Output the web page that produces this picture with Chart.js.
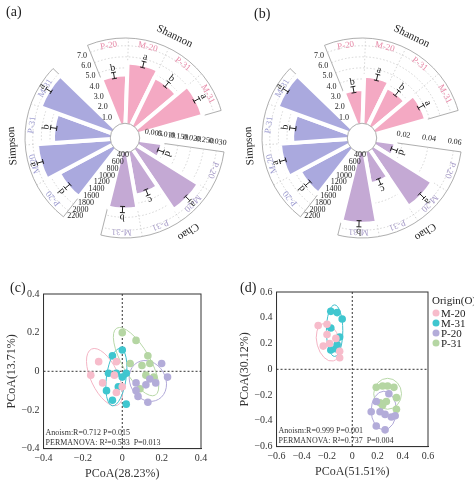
<!DOCTYPE html>
<html lang="en">
<head>
<meta charset="UTF-8">
<title>Alpha and beta diversity</title>
<script src="https://cdn.jsdelivr.net/npm/chart.js"></script>
<style>
  body { margin: 0; background: #fff; font-family: "Liberation Serif", serif; }
  .wrap { position: relative; width: 474px; height: 484px; }
  .panel { position: absolute; }
  .tag { position: absolute; font-size: 14px; color: #222; }
</style>
</head>
<body>
<div class="wrap">
  <div class="panel" style="left:0;top:0;width:237px;height:280px"><canvas id="chartA"></canvas></div>
  <div class="panel" style="left:237px;top:0;width:237px;height:280px"><canvas id="chartB"></canvas></div>
  <div class="panel" style="left:0;top:280px;width:237px;height:204px"><canvas id="chartC"></canvas></div>
  <div class="panel" style="left:237px;top:280px;width:237px;height:204px"><canvas id="chartD"></canvas></div>
  <div class="tag" style="left:6px;top:4px">(a)</div>
  <div class="tag" style="left:254px;top:6px">(b)</div>
  <div class="tag" style="left:10px;top:280px">(c)</div>
  <div class="tag" style="left:240px;top:280px">(d)</div>
</div>
<script>
// ---- radial bar panels ----
const groupCats = ['P-20', 'M-20', 'P-31', 'M-31'];
const groupTitles = ['Shannon', 'Chao', 'Simpson'];

const aShannon = [4.4, 5.5, 4.8, 6.0];
const aRight = [0.009, 0.028, 0.017, 0.022];
const aLeft = [1800, 2110, 1730, 2150];
const bShannon = [3.1, 4.3, 3.8, 4.7];
const bRight = [0.015, 0.053, 0.025, 0.055];
const bLeft = [1700, 1970, 1680, 2150];

const shannonLetters = ['b', 'a', 'b', 'a'];
const rightLetters = ['d', 'a', 'c', 'b'];
const leftLetters = ['d', 'a', 'b', 'a'];

const shannonTicks = ['1.0', '2.0', '3.0', '4.0', '5.0', '6.0', '7.0'];
const shannonTickVals = [1, 2, 3, 4, 5, 6, 7];
const rightTicksA = ['0.005', '0.010', '0.150', '0.020', '0.250', '0.030'];
const rightTickValsA = [0.005, 0.010, 0.015, 0.020, 0.025, 0.030];
const rightTicksB = ['0.02', '0.04', '0.06'];
const rightTickValsB = [0.02, 0.04, 0.06];
const leftTicks = ['400', '600', '800', '1000', '1200', '1400', '1600', '1800', '2000', '2200'];
const leftTickVals = [400, 600, 800, 1000, 1200, 1400, 1600, 1800, 2000, 2200];

const groupColors = ['#f4a9c3', '#c4a9d4', '#aaa9de'];
const labelColors = ['#e78aa8', '#a79cc8', '#9c9bd0'];

const START = -22, SLICE = 24;

function makePolar(id, shannon, right, left, rightHi, rTicks, rTickVals) {
  const ranges = [[0, 7], [0, rightHi], [400, 2200]];
  const raw = [shannon, right, left];
  const letters = [shannonLetters, rightLetters, leftLetters];
  const values = [], colors = [];
  raw.forEach((arr, g) => {
    arr.forEach(v => { values.push((v - ranges[g][0]) / (ranges[g][1] - ranges[g][0])); colors.push(groupColors[g]); });
    values.push(0); colors.push('rgba(0,0,0,0)');
  });
  const tickSets = [[shannonTicks, shannonTickVals], [rTicks, rTickVals], [leftTicks, leftTickVals]];

  const ang = i => (START - 90 + i * SLICE) * Math.PI / 180;

  const deco = {
    id: 'deco',
    beforeDatasetsDraw(chart) {
      const ctx = chart.ctx, s = chart.scales.r;
      const cx = s.xCenter, cy = s.yCenter;
      const rad = n => s.getDistanceFromCenterForValue(n);
      const hole = rad(0), outer = rad(1.1);
      ctx.save();
      for (let g = 0; g < 3; g++) {
        const a0 = ang(g * 5), a1 = ang(g * 5 + 4);
        ctx.beginPath();
        ctx.arc(cx, cy, outer, a0, a1);
        ctx.arc(cx, cy, hole, a1, a0, true);
        ctx.closePath();
        ctx.fillStyle = '#fff'; ctx.fill();
        ctx.strokeStyle = '#999'; ctx.lineWidth = 0.8; ctx.stroke();
        ctx.setLineDash([1.5, 2]); ctx.strokeStyle = '#ccc';
        const [, tv] = tickSets[g];
        tv.forEach(v => {
          const n = (v - ranges[g][0]) / (ranges[g][1] - ranges[g][0]);
          ctx.beginPath(); ctx.arc(cx, cy, rad(n), a0, a1); ctx.stroke();
        });
        for (let k = 1; k < 4; k++) {
          const a = ang(g * 5 + k);
          ctx.beginPath();
          ctx.moveTo(cx + hole * Math.cos(a), cy + hole * Math.sin(a));
          ctx.lineTo(cx + outer * Math.cos(a), cy + outer * Math.sin(a));
          ctx.stroke();
        }
        ctx.setLineDash([]);
      }
      ctx.restore();
    },
    afterDatasetsDraw(chart) {
      const ctx = chart.ctx, s = chart.scales.r;
      const cx = s.xCenter, cy = s.yCenter;
      const rad = n => s.getDistanceFromCenterForValue(n);
      const hole = rad(0), outer = rad(1.1);
      ctx.save();
      ctx.beginPath(); ctx.arc(cx, cy, hole, 0, Math.PI * 2);
      ctx.fillStyle = '#fff'; ctx.fill();
      ctx.strokeStyle = '#999'; ctx.lineWidth = 0.8; ctx.stroke();
      const text = (str, x, y, rot, font, color) => {
        ctx.save(); ctx.translate(x, y); ctx.rotate(rot);
        ctx.font = font; ctx.fillStyle = color;
        ctx.textAlign = 'center'; ctx.textBaseline = 'middle';
        ctx.fillText(str, 0, 0); ctx.restore();
      };
      for (let g = 0; g < 3; g++) {
        for (let k = 0; k < 4; k++) {
          const idx = g * 5 + k;
          const a = ang(idx) + SLICE / 2 * Math.PI / 180;
          const n = values[idx];
          const rot = a + Math.PI / 2;
          const r0 = rad(n - 0.04), r1 = rad(n + 0.04);
          const ca = Math.cos(a), sa = Math.sin(a), px = -sa, py = ca;
          ctx.strokeStyle = '#222'; ctx.lineWidth = 1;
          ctx.beginPath();
          ctx.moveTo(cx + r0 * ca, cy + r0 * sa); ctx.lineTo(cx + r1 * ca, cy + r1 * sa);
          [r0, r1].forEach(r => {
            ctx.moveTo(cx + r * ca - 2.5 * px, cy + r * sa - 2.5 * py);
            ctx.lineTo(cx + r * ca + 2.5 * px, cy + r * sa + 2.5 * py);
          });
          ctx.stroke();
          const rl = rad(n + 0.1);
          text(letters[g][k], cx + rl * ca, cy + rl * sa, rot, '10px "Liberation Serif"', '#222');
          const rc = rad(1.02);
          text(groupCats[k], cx + rc * ca, cy + rc * sa, rot, '9px "Liberation Serif"', labelColors[g]);
        }
        const mid = ang(g * 5 + 2);
        const rt = outer + 13;
        text(groupTitles[g], cx + rt * Math.cos(mid), cy + rt * Math.sin(mid), mid + Math.PI / 2,
             '11px "Liberation Serif"', '#222');
        // tick labels along the group's first edge
        const a0 = ang(g * 5);
        const [tl, tv] = tickSets[g];
        tv.forEach((v, i) => {
          const n = (v - ranges[g][0]) / (ranges[g][1] - ranges[g][0]);
          const r = rad(n);
          const ox = Math.cos(a0 - Math.PI / 2) * 9, oy = Math.sin(a0 - Math.PI / 2) * 9;
          const rot = g === 1 ? a0 : 0;
          text(tl[i], cx + r * Math.cos(a0) + ox, cy + r * Math.sin(a0) + oy, rot, '8px "Liberation Serif"', '#222');
        });
      }
      ctx.restore();
    }
  };

  new Chart(document.getElementById(id), {
    type: 'polarArea',
    data: {
      labels: values.map((v, i) => 'c' + i),
      datasets: [{ data: values, backgroundColor: colors, borderColor: '#fff', borderWidth: 4 }]
    },
    options: {
      responsive: false, animation: false,
      layout: { padding: { left: 25, right: 12, top: 38, bottom: 42 } },
      scales: { r: { startAngle: START, min: -0.19, max: 1.1, ticks: { display: false }, grid: { display: false },
                     angleLines: { display: false }, pointLabels: { display: false } } },
      plugins: { legend: { display: false }, tooltip: { enabled: false } }
    },
    plugins: [deco]
  });
}

// ---- PCoA panels ----
const pcoaGroups = ['M-20', 'M-31', 'P-20', 'P-31'];
const pointColors = ['#f7bccb', '#3fc6cf', '#b3acd9', '#b5d6a3'];
const lineColors = ['#f4b4c4', '#3fbfcc', '#b0a8d8', '#b8d8a8'];

const cM20 = [[-0.16,-0.02],[-0.12,0.05],[-0.10,-0.06],[-0.03,0.05],[-0.03,-0.11],[-0.04,-0.02],[0.0,-0.08]];
const cM31 = [[-0.05,0.08],[-0.07,-0.01],[-0.08,-0.10],[-0.05,-0.15],[-0.02,-0.08],[-0.03,-0.01],[0.0,0.11],[0.02,-0.01],[0.02,-0.17],[0.0,-0.03]];
const cP20 = [[0.20,0.04],[0.23,-0.03],[0.17,-0.06],[0.14,-0.04],[0.12,-0.07],[0.07,-0.06],[0.07,-0.10],[0.08,-0.13],[0.13,-0.16]];
const cP31 = [[0.0,0.20],[0.07,0.16],[0.13,0.08],[0.10,0.03],[0.14,0.04],[0.12,-0.02],[0.16,-0.03],[0.09,-0.09],[0.04,0.04]];
// ellipse: centre x, centre y, semi-axis x, semi-axis y, tilt (deg)
const cEllipses = [[-0.09,-0.03,0.07,0.16,-25],[-0.03,-0.03,0.05,0.15,8],[0.13,-0.05,0.09,0.11,-30],[0.07,0.05,0.07,0.2,-30]];

const dM20 = [[-0.27,0.34],[-0.23,0.18],[-0.20,0.27],[-0.20,0.35],[-0.18,0.20],[-0.13,0.24],[-0.10,0.14],[-0.10,0.09]];
const dM31 = [[-0.17,0.45],[-0.12,0.44],[-0.08,0.39],[-0.17,0.32],[-0.12,0.19],[-0.17,0.15],[-0.10,0.25],[-0.13,0.16]];
const dP20 = [[0.15,-0.33],[0.19,-0.25],[0.22,-0.33],[0.26,-0.35],[0.31,-0.37],[0.19,-0.44],[0.26,-0.47],[0.29,-0.19],[0.34,-0.36]];
const dP31 = [[0.19,-0.14],[0.24,-0.13],[0.28,-0.13],[0.33,-0.14],[0.35,-0.22],[0.35,-0.31],[0.27,-0.25],[0.22,-0.26],[0.24,-0.28]];
const dEllipses = [[-0.19,0.21,0.09,0.15,-15],[-0.14,0.30,0.065,0.2,0],[0.25,-0.32,0.1,0.15,0],[0.28,-0.19,0.11,0.12,0]];

function fmt(v) {
  v = Math.round(v * 10) / 10;
  return v === 0 ? '0' : (v < 0 ? '\u2212' : '') + Math.abs(v).toFixed(1);
}

function makePcoa(id, sets, ellipses, lim, xTitle, yTitle, notes, pad, legend) {
  const deco = {
    id: 'pdeco',
    beforeDatasetsDraw(chart) {
      const { ctx, chartArea: ca, scales: { x, y } } = chart;
      ctx.save();
      ctx.setLineDash([2, 2]); ctx.strokeStyle = '#333'; ctx.lineWidth = 1;
      ctx.beginPath();
      ctx.moveTo(x.getPixelForValue(0), ca.top); ctx.lineTo(x.getPixelForValue(0), ca.bottom);
      ctx.moveTo(ca.left, y.getPixelForValue(0)); ctx.lineTo(ca.right, y.getPixelForValue(0));
      ctx.stroke(); ctx.setLineDash([]);
      ellipses.forEach((e, i) => {
        const ex = x.getPixelForValue(e[0]), ey = y.getPixelForValue(e[1]);
        const rx = Math.abs(x.getPixelForValue(e[0] + e[2]) - ex);
        const ry = Math.abs(y.getPixelForValue(e[1] + e[3]) - ey);
        ctx.beginPath(); ctx.ellipse(ex, ey, rx, ry, e[4] * Math.PI / 180, 0, Math.PI * 2);
        ctx.strokeStyle = lineColors[i]; ctx.lineWidth = 1; ctx.stroke();
      });
      ctx.restore();
    },
    afterDraw(chart) {
      const { ctx, chartArea: ca } = chart;
      ctx.save();
      ctx.strokeStyle = '#333'; ctx.lineWidth = 1;
      ctx.strokeRect(ca.left, ca.top, ca.right - ca.left, ca.bottom - ca.top);
      ctx.font = '8px "Liberation Serif"'; ctx.fillStyle = '#333'; ctx.textBaseline = 'alphabetic';
      ctx.fillText(notes[0], ca.left + 2, ca.bottom - 14);
      ctx.fillText(notes[1], ca.left + 2, ca.bottom - 4);
      if (legend) {
        ctx.font = '11px "Liberation Serif"'; ctx.fillStyle = '#222';
        ctx.fillText('Origin(O)', ca.right + 4, ca.top + 12);
        pcoaGroups.forEach((g, i) => {
          const yy = ca.top + 24 + i * 10;
          ctx.beginPath(); ctx.arc(ca.right + 8, yy - 3, 3.5, 0, Math.PI * 2);
          ctx.fillStyle = pointColors[i]; ctx.fill();
          ctx.fillStyle = '#222'; ctx.fillText(g, ca.right + 13, yy + 1);
        });
      }
      ctx.restore();
    }
  };
  const axis = (title) => ({
    min: -lim, max: lim, grid: { display: false, drawTicks: true, tickLength: 3 },
    border: { color: '#333' },
    ticks: { stepSize: 0.2, callback: fmt, color: '#333', font: { family: 'Liberation Serif', size: 10 }, padding: 1 },
    title: { display: true, text: title, color: '#333', font: { family: 'Liberation Serif', size: 12 }, padding: 1 }
  });
  new Chart(document.getElementById(id), {
    type: 'scatter',
    data: {
      datasets: sets.map((pts, i) => ({
        label: pcoaGroups[i], data: pts.map(p => ({ x: p[0], y: p[1] })),
        backgroundColor: pointColors[i], borderWidth: 0, pointRadius: 3.8
      }))
    },
    options: {
      responsive: false, animation: false,
      layout: { padding: pad },
      scales: { x: axis(xTitle), y: axis(yTitle) },
      plugins: { legend: { display: false }, tooltip: { enabled: false } }
    },
    plugins: [deco]
  });
}

[['chartA', 237, 280], ['chartB', 237, 280], ['chartC', 237, 204], ['chartD', 237, 204]].forEach(([id, w, h]) => {
  const c = document.getElementById(id); c.width = w; c.height = h;
  c.style.width = w + 'px'; c.style.height = h + 'px';
});

makePolar('chartA', aShannon, aRight, aLeft, 0.03, rightTicksA, rightTickValsA);
makePolar('chartB', bShannon, bRight, bLeft, 0.06, rightTicksB, rightTickValsB);
makePcoa('chartC', [cM20, cM31, cP20, cP31], cEllipses, 0.4, 'PCoA(28.23%)', 'PCoA(13.71%)',
  ['Anoism:R=0.712 P=0.015', 'PERMANOVA: R\u00b2=0.583  P=0.013'],
  { left: 4, right: 36, top: 14, bottom: 2 }, false);
makePcoa('chartD', [dM20, dM31, dP20, dP31], dEllipses, 0.6, 'PCoA(51.51%)', 'PCoA(30.12%)',
  ['Anoism:R=0.999 P=0.001', 'PERMANOVA: R\u00b2=0.737  P=0.004'],
  { left: 0, right: 46, top: 12, bottom: 4 }, true);
</script>
</body>
</html>
